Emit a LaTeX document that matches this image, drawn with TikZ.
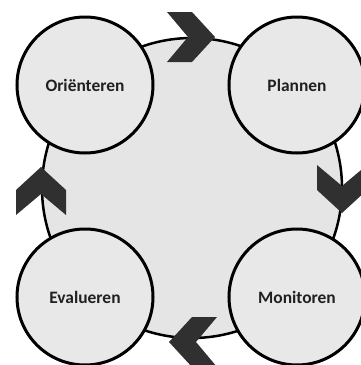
\documentclass[tikz,border=0pt]{standalone}
\usepackage{fontspec}
\setmainfont{Carlito}
\definecolor{ringfill}{HTML}{E5E5E5}
\definecolor{stagefill}{HTML}{E8E8E8}
\definecolor{chevgray}{HTML}{303030}
\definecolor{textgray}{HTML}{202020}
\begin{document}
\begin{tikzpicture}[x=1bp,y=-1bp,
  stage/.style={circle, draw=black, line width=3bp, fill=stagefill, minimum size=136bp, inner sep=0pt,
    font=\bfseries\fontsize{17.5}{20}\selectfont, text=textgray},
  ring/.style={circle, draw=black, line width=2.5bp, fill=ringfill, minimum size=300bp, inner sep=0pt},
  chev/.style={fill=chevgray, draw=none}]
\useasboundingbox (0,0) rectangle (361,365);
\fill[white] (0,0) rectangle (361,365);
\node[ring] (cycle) at (192,188) {};
\foreach \cx/\cy/\ang in {191/37/0, 342/189/-90, 193/342/180, 41/191/90}{
  \begin{scope}[shift={(\cx,\cy)}, rotate=\ang]
    \fill[chev] (-24,25) -- (1,25) -- (24,0) -- (1,-25) -- (-24,-25) -- (-3,0) -- cycle;
  \end{scope}
}
\node[stage] (ori) at (85,85) {Oriënteren};
\node[stage] (plan) at (297,85) {Plannen};
\node[stage] (mon) at (297,297) {Monitoren};
\node[stage] (eval) at (85,297) {Evalueren};
\end{tikzpicture}
\end{document}
